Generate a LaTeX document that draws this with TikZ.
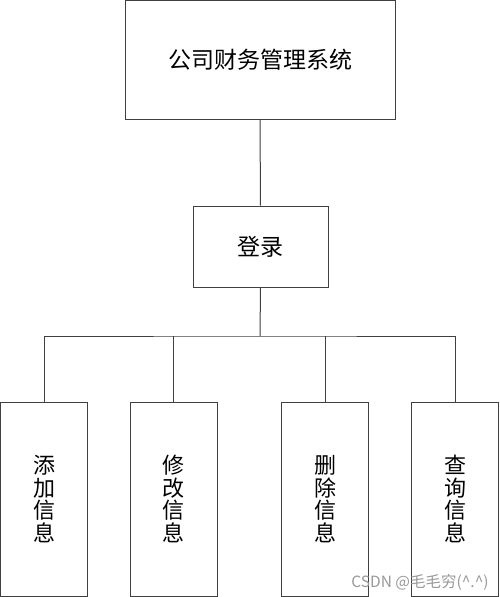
\documentclass[tikz,border=0pt]{standalone}
\usepackage{fontspec}
\setmainfont{Noto Sans CJK SC}
\newfontfamily\cjk{Noto Sans CJK SC}
\begin{document}
\begin{tikzpicture}[x=1pt,y=-1pt,
  box/.style={draw=black!75,line width=1pt,fill=white,inner sep=0pt,font=\cjk\fontsize{23}{23}\selectfont},
  vbox/.style={box,minimum width=87pt,minimum height=194pt,align=center,font=\cjk\fontsize{22}{22.5}\selectfont},
  link/.style={draw=black!75,line width=1pt}]
\useasboundingbox[fill=white] (0,0) rectangle (499,597);
\node[box,minimum width=270pt,minimum height=118.5pt] (sys) at (260,60) {公司财务管理系统};
\node[box,minimum width=135pt,minimum height=81pt] (login) at (260.5,246.5) {登录};
\node[vbox] (add) at (44,499) {添\\加\\信\\息};
\node[vbox] (mod) at (173.5,499) {修\\改\\信\\息};
\node[vbox] (del) at (325,499) {删\\除\\信\\息};
\node[vbox] (qry) at (455,499) {查\\询\\信\\息};
\coordinate (bus) at (260,336);
\draw[link] (sys.south) -- (login.north);
\draw[link] (login.south) -- (bus);
\draw[link] (add.north) |- (bus) -| (qry.north);
\draw[link] (mod.north) -- (mod.north |- bus);
\draw[link] (del.north) -- (del.north |- bus);
\node[text=black!40,font=\cjk\fontsize{15.5}{15.5}\selectfont,inner sep=0pt] (wm) at (420,582) {CSDN @毛毛穷(\^{}.\^{})};
\end{tikzpicture}
\end{document}
